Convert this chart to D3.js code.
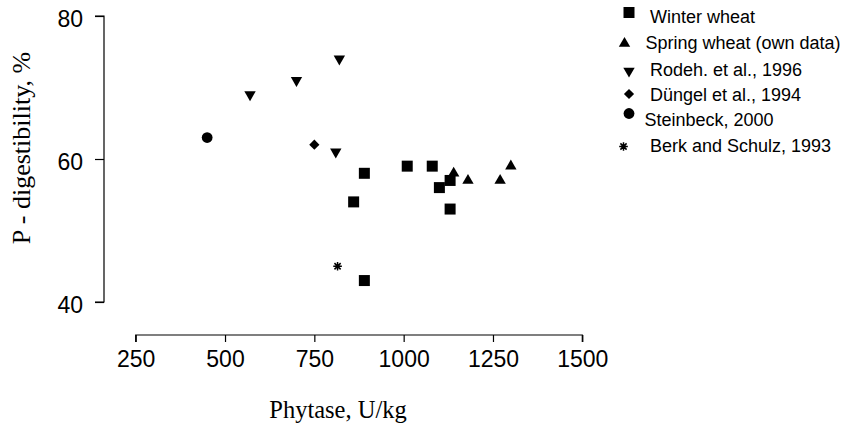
<!DOCTYPE html>
<html><head><meta charset="utf-8">
<script src="https://cdn.jsdelivr.net/npm/d3@7/dist/d3.min.js"></script>
<style>body{margin:0;background:#fff;} svg{display:block;}</style>
</head><body>
<svg id="c" width="845" height="425"></svg>
<script>
const xTicks = [250, 500, 750, 1000, 1250, 1500];
const yTicks = [40, 60, 80];
const seriesNames = ["Winter wheat", "Spring wheat (own data)", "Rodeh. et al., 1996", "Düngel et al., 1994", "Steinbeck, 2000", "Berk and Schulz, 1993"];
const winterX = [890, 860, 1010, 1080, 1130, 1100, 1130, 890];
const winterY = [58, 54, 59, 59, 57, 56, 53, 43];
const springX = [1140, 1180, 1270, 1300];
const springY = [58, 57, 57, 59];
const rodehX = [570, 700, 820, 810];
const rodehY = [69, 71, 74, 61];
const dungelX = [750];
const dungelY = [62];
const steinX = [450];
const steinY = [63];
const berkX = [815];
const berkY = [45];

const svg = d3.select("#c");
const x = d3.scaleLinear().domain([250, 1500]).range([135.7, 582.3]);
const y = d3.scaleLinear().domain([40, 80]).range([302, 16]);

// Axes
const xAxis = svg.append("g").attr("transform", "translate(0,335)")
  .call(d3.axisBottom(x).tickValues(xTicks).tickSize(7).tickPadding(9).tickFormat(d3.format("d")));
const yAxis = svg.append("g").attr("transform", "translate(104,0)")
  .call(d3.axisLeft(y).tickValues(yTicks).tickSize(9).tickPadding(12).tickFormat(d3.format("d")));
[xAxis, yAxis].forEach(a => {
  a.attr("font-family", null).attr("font-size", null);
  a.selectAll("path").attr("stroke", "#000").attr("stroke-width", 1.2);
  a.selectAll("line").attr("stroke", "#000").attr("stroke-width", 1.2);
  a.selectAll("text").style("font-family", "'Liberation Sans', Arial, sans-serif")
    .style("font-size", "23px").attr("fill", "#000");
});
xAxis.selectAll("path").attr("d", `M${x(250)},7V0H${x(1500)}V7`);
yAxis.selectAll("path").attr("d", `M-9,${y(80)}H0V${y(40)}H-9`);
yAxis.selectAll("text").attr("dy", "0.44em");

// Titles
svg.append("text").attr("x", 338).attr("y", 418).attr("text-anchor", "middle")
  .style("font-family", "'Liberation Serif', 'Times New Roman', serif").style("font-size", "24.5px")
  .text("Phytase, U/kg");
svg.append("text").attr("transform", "translate(30,148) rotate(-90)").attr("text-anchor", "middle")
  .style("font-family", "'Liberation Serif', 'Times New Roman', serif").style("font-size", "26px")
  .text("P - digestibility, %");

// Symbols
function drawSym(g, type, cx, cy) {
  if (type === "square") {
    g.append("path").attr("d", d3.symbol(d3.symbolSquare, 121)()).attr("transform", `translate(${cx},${cy})`).attr("fill", "#000");
  } else if (type === "up") {
    g.append("path").attr("d", d3.symbol(d3.symbolTriangle, 56)()).attr("transform", `translate(${cx},${cy})`).attr("fill", "#000");
  } else if (type === "down") {
    g.append("path").attr("d", d3.symbol(d3.symbolTriangle, 56)()).attr("transform", `translate(${cx},${cy}) rotate(180)`).attr("fill", "#000");
  } else if (type === "diamond") {
    g.append("path").attr("d", d3.symbol(d3.symbolSquare, 52)()).attr("transform", `translate(${cx},${cy}) rotate(45)`).attr("fill", "#000");
  } else if (type === "circle") {
    g.append("circle").attr("cx", cx).attr("cy", cy).attr("r", 5.4).attr("fill", "#000");
  } else if (type === "star") {
    const r = 4.3, d = r * 0.72;
    const p = `M${cx - r},${cy}H${cx + r}M${cx},${cy - r}V${cy + r}M${cx - d},${cy - d}L${cx + d},${cy + d}M${cx - d},${cy + d}L${cx + d},${cy - d}`;
    g.append("path").attr("d", p).attr("stroke", "#000").attr("stroke-width", 1.5).attr("fill", "none");
  }
}

const series = [
  {name: seriesNames[0], type: "square", xs: winterX, ys: winterY},
  {name: seriesNames[1], type: "up", xs: springX, ys: springY},
  {name: seriesNames[2], type: "down", xs: rodehX, ys: rodehY},
  {name: seriesNames[3], type: "diamond", xs: dungelX, ys: dungelY},
  {name: seriesNames[4], type: "circle", xs: steinX, ys: steinY},
  {name: seriesNames[5], type: "star", xs: berkX, ys: berkY}
];
const pts = svg.append("g");
series.forEach(s => s.xs.forEach((v, i) => drawSym(pts, s.type, x(v), y(s.ys[i]))));

// Legend (irregular placement as in the reference)
const legPos = [
  {sx: 629, sy: 12.5, tx: 650, ty: 17},
  {sx: 624.5, sy: 43.5, tx: 645.5, ty: 43},
  {sx: 629, sy: 71, tx: 650, ty: 70},
  {sx: 629, sy: 94, tx: 650, ty: 95},
  {sx: 629, sy: 113.5, tx: 644.5, ty: 120},
  {sx: 623.5, sy: 146.5, tx: 650, ty: 146}
];
const leg = svg.append("g");
series.forEach((s, i) => {
  const p = legPos[i];
  drawSym(leg, s.type, p.sx, p.sy);
  leg.append("text").attr("x", p.tx).attr("y", p.ty).attr("dy", "0.35em")
    .style("font-family", "'Liberation Sans', Arial, sans-serif").style("font-size", "18px").attr("fill", "#000")
    .text(s.name);
});
</script>
</body></html>
